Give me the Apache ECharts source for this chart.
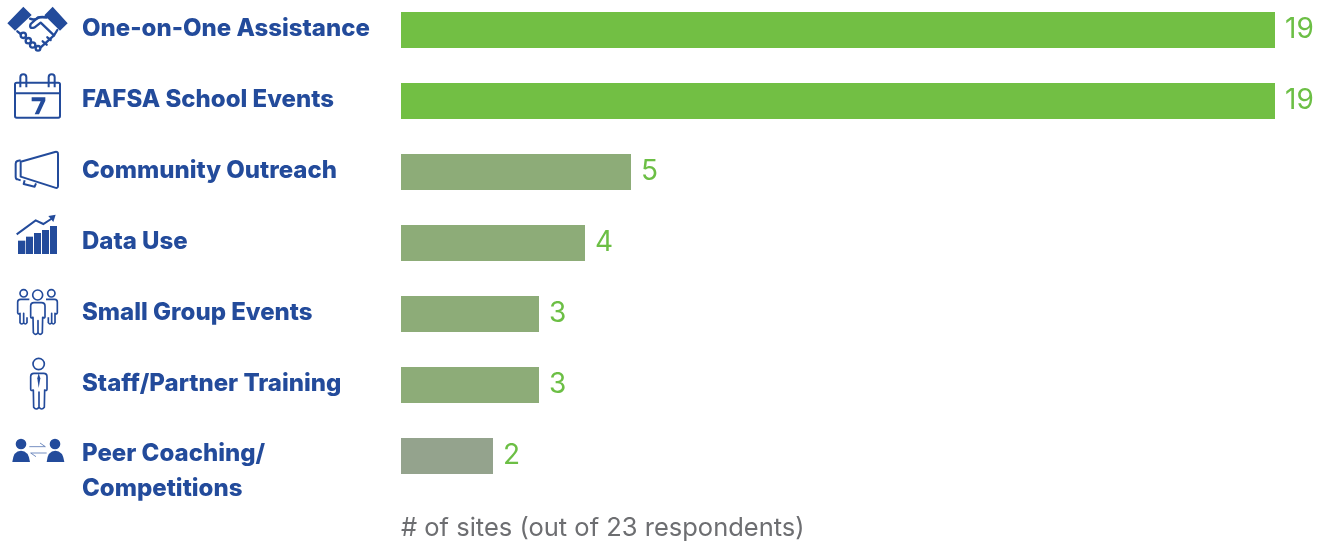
<!DOCTYPE html>
<html>
<head>
<meta charset="utf-8">
<style>html,body{margin:0;padding:0;background:#fff}#chart{width:1327px;height:543px}</style>
<script src="https://cdn.jsdelivr.net/npm/echarts@6/dist/echarts.min.js"></script>
</head>
<body>
<div id="chart"></div>
<script>
const categories = ['One-on-One Assistance','FAFSA School Events','Community Outreach','Data Use','Small Group Events','Staff/Partner Training','Peer Coaching/\nCompetitions'];
const siteCounts = [19,19,5,4,3,3,2];
const barColors = ['#72bf44','#72bf44','#8dac78','#8dac78','#8dac78','#8dac78','#94a38d'];
const axisCaption = '# of sites (out of 23 respondents)';

const BLUE = '#234b9b';
const LABEL_FONT = { fontFamily: 'Inter', fontWeight: 800, fontSize: 24, color: BLUE };

// Pictograms are authored at 3x scale, each sheet covering one strip of the left margin.
const iconSheets = [
  { y: 0, h: 200, body: `
    <path d="M22,70 70,20 95,45 45,92Z M133,46 158,20 203,70 180,92Z" fill="${BLUE}"/>
    <g fill="#fff" stroke="${BLUE}" stroke-width="7" stroke-linejoin="round" stroke-linecap="round">
      <path fill="none" d="M90,56 Q104,62 114,54 Q122,48 140,52 M52,94 L62,102 M172,90 L162,106 L118,146"/>
      <path fill="none" d="M140,52 H114 L92,72 Q86,88 104,82 L122,68 L162,106 M128,124 L140,134 M142,112 L152,120"/>
      <circle cx="70" cy="106" r="8"/><circle cx="85" cy="122" r="8"/><circle cx="98" cy="135" r="8"/><circle cx="114" cy="145" r="7"/>
    </g>
    <g fill="none" stroke="${BLUE}" stroke-width="6" stroke-linejoin="round">
      <rect x="45" y="248" width="135" height="105" rx="5"/>
      <path d="M45,280 H180 M61,262 V232 a9,9 0 0 1 18,0 V262 M146,262 V232 a9,9 0 0 1 18,0 V262"/>
      <path d="M62,485 L165,456 Q174,454 174,462 V558 Q174,566 165,563 L62,530Z"/>
      <path d="M62,481 L52,483 Q47,485 47,491 V530 Q47,538 53,538 L62,541"/>
      <path d="M74,541 L71,552 L104,560 L108,550"/>
    </g>
    <path d="M95,292 H136 V302 L117,343 H104 L122,304 H95Z" fill="${BLUE}"/>` },
  { y: 200, h: 150, body: `
    <g fill="${BLUE}">
      <rect x="54" y="122" width="22" height="40"/><rect x="78" y="110" width="21" height="52"/>
      <rect x="102" y="99" width="21" height="63"/><rect x="126" y="90" width="21" height="72"/>
      <rect x="150" y="78" width="21" height="84"/><path d="M145,48 167,44 160,66Z"/>
    </g>
    <path d="M50,103 L107,61 L130,72 L158,54" fill="none" stroke="${BLUE}" stroke-width="6"/>
    <g fill="none" stroke="${BLUE}" stroke-width="5" stroke-linejoin="round">
      <circle cx="113" cy="285" r="15"/><circle cx="71" cy="280" r="11"/><circle cx="154" cy="280" r="11"/>
      <path d="M92,350 V318 Q92,308 102,308 H124 Q135,308 135,318 V350 Q135,356 128,352 L127,398 Q120,408 114,398 V362 V398 Q106,408 100,398 L99,352 Q92,356 92,350Z"/>
      <path d="M88,298 H62 Q53,298 53,306 V338 Q55,344 60,340 L60,368 Q66,376 71,368 V340 V368 Q76,376 81,368 V352"/>
      <path d="M138,298 H164 Q172,298 172,306 V338 Q170,344 165,340 L165,368 Q160,376 155,368 V340 V368 Q150,376 145,368 V352"/>
    </g>` },
  { y: 350, h: 193, body: `
    <g fill="none" stroke="${BLUE}" stroke-width="5" stroke-linejoin="round">
      <circle cx="116" cy="42" r="17"/>
      <path d="M92,118 V80 Q92,70 102,70 H131 Q141,70 141,80 V118 Q141,124 134,120 L133,172 Q125,182 117,172 V126 V172 Q108,182 101,172 L100,120 Q92,124 92,118Z"/>
    </g>
    <path d="M116,70 L112,85 L116,114 L121,85Z" fill="${BLUE}"/>
    <g fill="${BLUE}">
      <circle cx="63" cy="282" r="16"/><path d="M37,336 Q40,302 63,302 Q86,302 90,336Z"/>
      <circle cx="165" cy="282" r="16"/><path d="M140,336 Q143,302 166,302 Q189,302 193,336Z"/>
    </g>
    <path d="M88,290 H136 L120,279 M140,309 H92 L108,320" fill="none" stroke="#5a78b5" stroke-width="2.5"/>` }
];

const iconGraphics = iconSheets.map(s => ({
  type: 'image',
  silent: true,
  x: 0, y: s.y,
  style: {
    x: 0, y: 0, width: 400, height: s.h,
    image: 'data:image/svg+xml;charset=utf-8,' + encodeURIComponent(
      `<svg xmlns="http://www.w3.org/2000/svg" width="400" height="${s.h}" viewBox="0 0 1200 ${s.h * 3}">${s.body}</svg>`)
  }
}));

const chart = echarts.init(document.getElementById('chart'), null, { renderer: 'canvas' });
chart.setOption({
  animation: false,
  backgroundColor: '#fff',
  title: {
    text: axisCaption, left: 401, top: 515, padding: 0,
    textStyle: { fontFamily: 'Inter', fontWeight: 400, fontSize: 25.5, color: '#6d6e71' }
  },
  // Category positions run from the first to the last bar centre, 71px apart.
  grid: { left: 401, top: 30, width: 920, height: 426, containLabel: false },
  xAxis: {
    type: 'value', min: 0, max: 20,
    axisLine: { show: false }, axisTick: { show: false }, axisLabel: { show: false }, splitLine: { show: false }
  },
  yAxis: {
    type: 'category', inverse: true, boundaryGap: false, data: categories,
    axisLine: { show: false }, axisTick: { show: false },
    axisLabel: {
      margin: 319, align: 'left',
      formatter: v => v.includes('\n')
        ? '{gap|}\n' + v.split('\n').map(t => `{line|${t}}`).join('\n')
        : `{single|${v}}`,
      rich: {
        single: { ...LABEL_FONT, height: 30, padding: [0, 0, 2, 0] },
        line: { ...LABEL_FONT, height: 35 },
        gap: { height: 30, fontSize: 12 }
      }
    }
  },
  series: [{
    type: 'bar', barWidth: 36,
    data: siteCounts.map((v, i) => ({ value: v, itemStyle: { color: barColors[i] } })),
    label: {
      show: true, position: 'right', distance: 10,
      fontFamily: 'Inter', fontSize: 28, color: '#6cbf45'
    }
  }],
  graphic: { elements: iconGraphics }
});
</script>
</body>
</html>
